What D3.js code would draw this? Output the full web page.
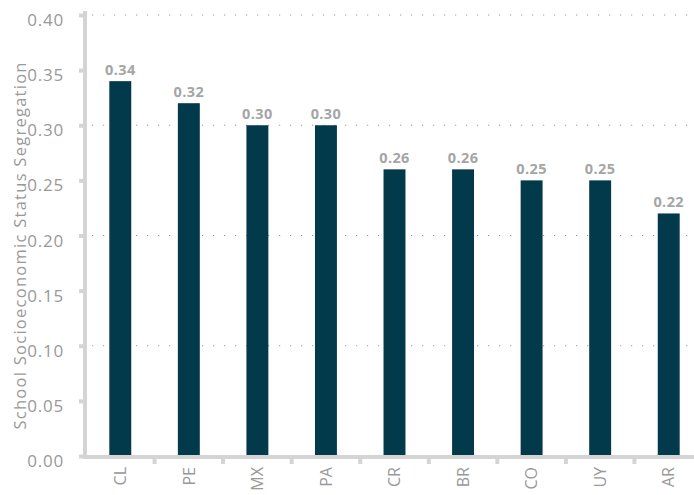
<!DOCTYPE html>
<html><head><meta charset="utf-8">
<script src="https://cdn.jsdelivr.net/npm/d3@7"></script>
<style>body{margin:0;background:#fff}svg{display:block}</style>
</head><body>
<svg id="c" width="694" height="495"></svg>
<script>
const categories = ["CL","PE","MX","PA","CR","BR","CO","UY","AR"];
const values = [0.34,0.32,0.30,0.30,0.26,0.26,0.25,0.25,0.22];
const yTicks = [0,0.05,0.10,0.15,0.20,0.25,0.30,0.35,0.40];
const gridTicks = [0.10,0.20,0.30,0.40];
const yTitle = "School Socioeconomic Status Segregation";

const svg = d3.select("#c");
const font = "'Open Sans', 'Noto Sans', sans-serif";
const y = d3.scaleLinear().domain([0,0.4]).range([456,15]);
const x = d3.scaleBand().domain(categories).range([86,703]).paddingInner(0.68).paddingOuter(0.34);

// grid
svg.append("g").selectAll("line").data(gridTicks).join("line")
  .attr("x1",92).attr("x2",694).attr("y1",d=>y(d)).attr("y2",d=>y(d))
  .attr("stroke","#999").attr("stroke-width",1.2).attr("stroke-dasharray","1.2,9.8");

// bars
svg.append("g").selectAll("rect").data(values).join("rect")
  .attr("x",(d,i)=>x(categories[i])).attr("width",x.bandwidth())
  .attr("y",d=>y(d)).attr("height",d=>y(0)-y(d)).attr("fill","#023a4c");

// value labels
svg.append("g").selectAll("text").data(values).join("text")
  .attr("x",(d,i)=>x(categories[i])+x.bandwidth()/2).attr("y",d=>y(d)-6)
  .attr("text-anchor","middle").attr("font-family",font).attr("font-weight","bold")
  .attr("font-size",14.5).attr("letter-spacing",0.4).attr("fill","#a5a5a5").text(d=>d.toFixed(2));

// y axis
const ya = svg.append("g").attr("transform","translate(85,0)")
  .call(d3.axisLeft(y).tickValues(yTicks).tickFormat(d3.format(".2f")).tickSize(6).tickPadding(15));
ya.select(".domain").attr("stroke","#d4d4d4").attr("stroke-width",4).attr("d","M0,11V459");
ya.selectAll(".tick line").attr("stroke","#d4d4d4").attr("stroke-width",4);
ya.selectAll(".tick text").attr("font-family",font).attr("font-size",17).attr("letter-spacing",0.8).attr("fill","#999").attr("dy","0.62em");

// x axis
const xa = svg.append("g").attr("transform","translate(0,457)")
  .call(d3.axisBottom(x).tickSize(0).tickPadding(0));
xa.select(".domain").attr("stroke","#d4d4d4").attr("stroke-width",4).attr("d","M83,0H694");
xa.selectAll(".tick text").attr("font-family",font).attr("font-size",16).attr("fill","#999")
  .attr("transform","translate(0,10) rotate(-90)").attr("text-anchor","end").attr("dy","0.36em").attr("x",0).attr("y",0);
// boundary ticks
const bounds = categories.slice(0,-1).map((c,i)=>x(c)+x.bandwidth()/2+x.step()/2);
svg.append("g").selectAll("line").data(bounds).join("line")
  .attr("x1",d=>d).attr("x2",d=>d).attr("y1",457).attr("y2",464)
  .attr("stroke","#d4d4d4").attr("stroke-width",4);

// y title
svg.append("text").attr("transform","translate(26,246) rotate(-90)")
  .attr("text-anchor","middle").attr("font-family",font).attr("font-size",16.5)
  .attr("textLength",367).attr("lengthAdjust","spacing").attr("fill","#999").text(yTitle);
</script>
</body></html>
